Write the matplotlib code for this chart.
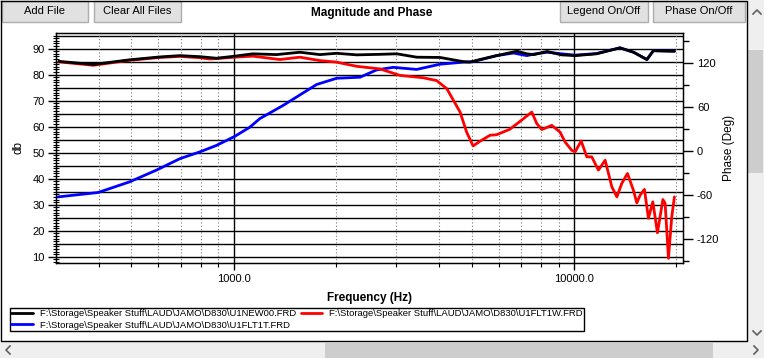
import numpy as np
import matplotlib
matplotlib.use("Agg")
import matplotlib.pyplot as plt
from matplotlib.patches import Rectangle

plt.rcParams["font.family"] = ["Liberation Sans", "DejaVu Sans"]
plt.rcParams["axes.unicode_minus"] = False

# ── data ────────────────────────────────────────────────────────────────────
black_f = [306, 386, 494, 606, 694, 794, 889, 1007, 1137, 1335, 1563, 1790,
           2004, 2295, 2688, 3010, 3447, 4034, 4720, 4943, 5290, 5917, 6792,
           7267, 7620, 8330, 9180, 10070, 11640, 13640, 14960, 16370, 17100,
           19720]
black_db = [85.1, 83.9, 85.7, 86.8, 87.3, 86.9, 86.3, 87.1, 88.0, 87.7, 88.6,
            87.7, 88.2, 87.6, 87.8, 88.0, 86.7, 86.6, 85.0, 84.8, 85.8, 87.3,
            89.0, 88.0, 87.7, 88.9, 87.6, 87.3, 88.0, 90.3, 88.6, 85.8, 89.2,
            89.0]

red_f = [306, 386, 494, 606, 694, 794, 850, 1007, 1137, 1365, 1563, 1790,
         2004, 2295, 2688, 3077, 3601, 3945, 4226, 4623, 4832, 5048, 5290,
         5662, 5917, 6474, 6930, 7510, 7768, 8035, 8600, 9095, 9408, 9845,
         10070, 10490, 10900, 11270, 11790, 12340, 12910, 13360, 13810,
         14350, 14940, 15290, 15640, 16100, 16540, 17040, 17580, 18240,
         18520, 18940, 19370, 19720]
red_db = [84.9, 83.6, 85.5, 86.6, 87.0, 86.5, 86.0, 86.7, 87.1, 85.8, 86.7,
          85.4, 84.8, 83.2, 82.2, 79.7, 78.8, 77.7, 74.6, 65.6, 57.9, 52.6,
          54.4, 56.7, 56.9, 59.0, 62.0, 65.6, 61.2, 58.9, 60.5, 57.9, 54.1,
          50.9, 50.3, 54.5, 48.4, 48.4, 43.3, 47.1, 36.9, 33.0, 38.2, 42.0,
          35.6, 30.7, 33.7, 35.9, 24.8, 31.1, 19.2, 32.0, 30.5, 9.4, 25.4,
          33.0]

blue_f = [304, 399, 494, 592, 694, 794, 889, 1007, 1114, 1192, 1397, 1750,
          2004, 2348, 2626, 2940, 3447, 4034, 4720, 5050, 5917, 6634, 7267,
          7620, 8330, 9180, 10070, 11640, 13640, 14960, 16370, 17100, 19720]
blue_db = [33.0, 34.7, 38.8, 43.3, 47.7, 50.3, 52.8, 56.3, 59.8, 63.1, 68.2,
           76.2, 78.6, 79.0, 81.8, 82.8, 82.0, 84.0, 84.8, 85.0, 87.3, 88.3,
           87.3, 87.9, 88.6, 88.0, 87.5, 88.1, 90.3, 88.6, 85.8, 89.2, 89.0]

legend_labels = [
    r"F:\Storage\Speaker Stuff\LAUD\JAMO\D830\U1NEW00.FRD",
    r"F:\Storage\Speaker Stuff\LAUD\JAMO\D830\U1FLT1T.FRD",
    r"F:\Storage\Speaker Stuff\LAUD\JAMO\D830\U1FLT1W.FRD",
]

x_major = [1000, 10000]
x_major_labels = ["1000.0", "10000.0"]
x_minor = [400, 500, 600, 700, 800, 900, 2000, 3000, 4000, 5000, 6000,
           7000, 8000, 9000, 20000]
db_ticks = [10, 20, 30, 40, 50, 60, 70, 80, 90]
phase_ticks = [-120, -60, 0, 60, 120]
phase_labels = ["-120", "-60", "0", "60", "120"]
phase_minor = [-150, -90, -30, 30, 90, 150]
buttons = [("Add File", 2, 86), ("Clear All Files", 94, 87),
           ("Legend On/Off", 560, 88), ("Phase On/Off", 653, 92)]

W, H = 764, 358
fig = plt.figure(figsize=(W / 100, H / 100), dpi=100)
fig.patch.set_facecolor("white")

# ── window chrome (pixel coordinates) ───────────────────────────────────────
bg = fig.add_axes([0, 0, 1, 1], zorder=0)
bg.set_xlim(0, W); bg.set_ylim(H, 0); bg.axis("off")
bg.add_patch(Rectangle((747, 0), 17, 342, fc="#efefef", ec="none"))
bg.add_patch(Rectangle((0, 341), W, 17, fc="#efefef", ec="none"))
bg.add_patch(Rectangle((748, 50), 15, 123, fc="#cdcdcd", ec="none"))
bg.add_patch(Rectangle((325, 343), 388, 15, fc="#cdcdcd", ec="none"))
for xs, ys in [([753, 757, 761], [14, 10, 14]), ([753, 757, 761], [331, 335, 331]),
               ([10, 6, 10], [346, 350, 354]), ([754, 758, 754], [346, 350, 354])]:
    bg.plot(xs, ys, color="#606060", lw=1.2)
bg.plot([0.5, 0.5, 746.5, 746.5, 0.5], [0.5, 340.5, 340.5, 0.5, 0.5],
        color="black", lw=1.0)
for txt, x0, w in buttons:
    bg.add_patch(Rectangle((x0, 1), w, 21, fc="#e1e1e1", ec="#adadad", lw=1))
    bg.text(x0 + w / 2, 11.5, txt, ha="center", va="center", fontsize=8)
bg.text(372, 13, "Magnitude and Phase", ha="center", va="center",
        fontsize=8.5, fontweight="bold")

# ── main plot ───────────────────────────────────────────────────────────────
ax = fig.add_axes([56 / W, 1 - 263 / H, (683 - 56) / W, (263 - 33) / H], zorder=1)
ax.set_facecolor("white")
ax.set_xscale("log")
ax.set_xlim(300, 20900)
ax.set_ylim(7.6, 96)

ax.hlines(np.arange(10, 96, 5), 300, 20900, colors="black", lw=1.0, zorder=1)
ax.vlines(x_minor, 7.6, 96, colors="#777777", lw=0.8, linestyles=(0, (1, 2)), zorder=1)
ax.vlines(x_major, 7.6, 96, colors="black", lw=1.0, zorder=1)

style = dict(lw=2.0, solid_joinstyle="round", solid_capstyle="round")
lb, = ax.plot(blue_f, blue_db, color="#0000ff", zorder=3, **style)
lr, = ax.plot(red_f, red_db, color="#ff0000", zorder=4, **style)
lk, = ax.plot(black_f, black_db, color="black", zorder=5, **style)

ax.set_xticks(x_major)
ax.set_xticklabels(x_major_labels)
ax.set_xticks(x_minor, minor=True)
ax.set_xticklabels([], minor=True)
ax.set_yticks(db_ticks)
ax.set_yticks(np.arange(8, 96, 1), minor=True)
ax.tick_params(axis="x", which="major", length=5, width=1, labelsize=8, pad=3)
ax.tick_params(axis="x", which="minor", length=3, width=0.8)
ax.tick_params(axis="y", which="major", length=6, width=1, labelsize=8, pad=2)
ax.tick_params(axis="y", which="minor", length=4, width=0.8, direction="inout")
for s in ax.spines.values():
    s.set_color("black"); s.set_linewidth(1.0)
ax.set_xlabel("Frequency (Hz)", fontsize=8.5, fontweight="bold", labelpad=6)
ax.set_ylabel("db", fontsize=8.5, labelpad=6)

ax2 = ax.twinx()
ax2.set_ylim(-153, 161)
ax2.set_yticks(phase_ticks)
ax2.set_yticklabels(phase_labels)
ax2.set_yticks(phase_minor, minor=True)
ax2.tick_params(axis="y", which="major", length=7, width=1, labelsize=8, pad=3)
ax2.tick_params(axis="y", which="minor", length=4, width=1)
ax2.set_ylabel("Phase (Deg)", fontsize=8.5, labelpad=3)

fig.legend([lk, lb, lr], legend_labels, ncol=2, loc="lower left",
           bbox_to_anchor=(10 / W, 1 - 331 / H), fontsize=6.8, frameon=True,
           fancybox=False, edgecolor="black", framealpha=1, borderpad=0.15,
           labelspacing=0.25, handlelength=2.3, handletextpad=0.7,
           columnspacing=0.5, borderaxespad=0)

fig.savefig("out.png", dpi=100)
